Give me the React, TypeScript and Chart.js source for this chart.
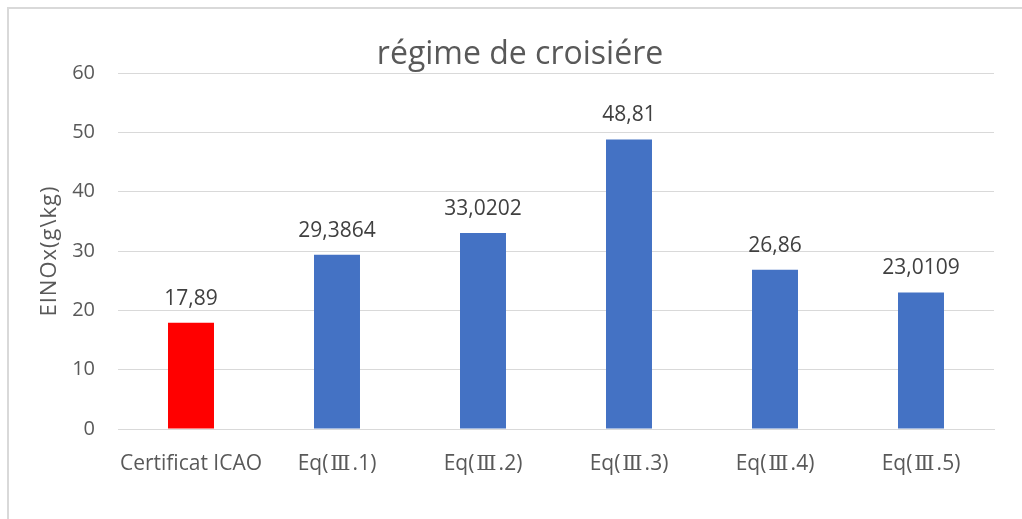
import React, { useEffect, useRef } from "react";
import { Chart, registerables } from "chart.js";

Chart.register(...registerables);

const categories = ["Certificat ICAO", "Eq(Ⅲ.1)", "Eq(Ⅲ.2)", "Eq(Ⅲ.3)", "Eq(Ⅲ.4)", "Eq(Ⅲ.5)"];
const values = [17.89, 29.3864, 33.0202, 48.81, 26.86, 23.0109];
const valueLabels = ["17,89", "29,3864", "33,0202", "48,81", "26,86", "23,0109"];
const barColors = ["#FF0000", "#4472C4", "#4472C4", "#4472C4", "#4472C4", "#4472C4"];
const titleText = "régime de croisiére";
const yTitle = "EINOx(g\\kg)";

const FONT = "'Open Sans', sans-serif";
const NUMERAL_FONT = "'DejaVu Serif', serif";

const decorPlugin = {
  id: "decor",
  beforeDraw(chart: any) {
    const ctx = chart.ctx;
    ctx.save();
    ctx.fillStyle = "#ffffff";
    ctx.fillRect(0, 0, chart.width, chart.height);
    ctx.fillStyle = "#d9d9d9";
    ctx.fillRect(7, 7, chart.width - 7, 2);
    ctx.fillRect(7, 7, 2, chart.height - 7);
    ctx.restore();
  },
  afterDraw(chart: any) {
    const ctx = chart.ctx;
    const area = chart.chartArea;
    ctx.save();
    ctx.fillStyle = "#595959";
    ctx.font = `32px ${FONT}`;
    ctx.textAlign = "center";
    ctx.textBaseline = "alphabetic";
    ctx.fillText(titleText, 520, 64);
    ctx.translate(50, (area.top + area.bottom) / 2);
    ctx.rotate(-Math.PI / 2);
    ctx.textBaseline = "middle";
    ctx.font = `22px ${FONT}`;
    try { (ctx as any).letterSpacing = "1px"; } catch (e) {}
    ctx.fillText(yTitle, 0, 0);
    ctx.restore();

    // category labels, with the roman numeral drawn in a font that has a barred glyph
    ctx.save();
    try { (ctx as any).letterSpacing = "0px"; } catch (e) {}
    ctx.fillStyle = "#595959";
    ctx.textAlign = "left";
    ctx.textBaseline = "alphabetic";
    const xs = chart.scales.x;
    categories.forEach((label: string, i: number) => {
      const cx = xs.getPixelForValue(i);
      const parts: { t: string; f: string }[] = [];
      let buf = "";
      for (const ch of label) {
        if (ch === "Ⅲ") {
          if (buf) parts.push({ t: buf, f: `21px ${FONT}` });
          buf = "";
          parts.push({ t: ch, f: `21px ${NUMERAL_FONT}` });
        } else buf += ch;
      }
      if (buf) parts.push({ t: buf, f: `21px ${FONT}` });
      let total = 0;
      const widths = parts.map((p) => {
        ctx.font = p.f;
        const w = ctx.measureText(p.t).width + (p.f.includes("DejaVu") ? 4 : 0);
        total += w;
        return w;
      });
      let x = cx - total / 2;
      parts.forEach((p, k) => {
        ctx.font = p.f;
        const pad = p.f.includes("DejaVu") ? 2 : 0;
        ctx.fillText(p.t, x + pad, 470);
        x += widths[k];
      });
    });
    ctx.restore();

    ctx.save();
    const meta = chart.getDatasetMeta(0);
    ctx.fillStyle = "#404040";
    ctx.font = `21px ${FONT}`;
    ctx.textAlign = "center";
    ctx.textBaseline = "alphabetic";
    meta.data.forEach((bar: any, i: number) => {
      ctx.fillText(valueLabels[i], bar.x, bar.y - 18);
    });
    ctx.restore();
  },
};

export default function App() {
  const ref = useRef<HTMLCanvasElement>(null);
  useEffect(() => {
    if (!ref.current) return;
    const chart = new Chart(ref.current, {
      type: "bar",
      data: {
        labels: categories,
        datasets: [
          {
            data: values,
            backgroundColor: barColors,
            borderWidth: 0,
            barPercentage: 0.315,
            categoryPercentage: 1,
          },
        ],
      },
      options: {
        animation: false,
        responsive: false,
        layout: { padding: { top: 73, right: 28, bottom: 0, left: 0 } },
        plugins: {
          legend: { display: false },
          title: { display: false },
          tooltip: { enabled: false },
        },
        scales: {
          x: {
            grid: { display: false, drawTicks: false },
            border: { display: true, color: "#d9d9d9", width: 1 },
            ticks: { display: false, autoSkip: false },
            afterFit: (s: any) => {
              s.height = 90;
            },
          },
          y: {
            min: 0,
            max: 60,
            grid: { color: "#d9d9d9", drawTicks: false, lineWidth: 1 },
            border: { display: false },
            ticks: {
              stepSize: 10,
              color: "#595959",
              font: { family: FONT, size: 20 },
              padding: 23,
            },
            afterFit: (s: any) => {
              s.width = 118;
            },
          },
        },
      },
      plugins: [decorPlugin],
    });
    return () => chart.destroy();
  }, []);
  return (
    <div style={{ position: "fixed", left: 0, top: 0, width: 1022, height: 519, background: "#fff" }}>
      <canvas ref={ref} width={1022} height={519} style={{ display: "block" }} />
    </div>
  );
}
